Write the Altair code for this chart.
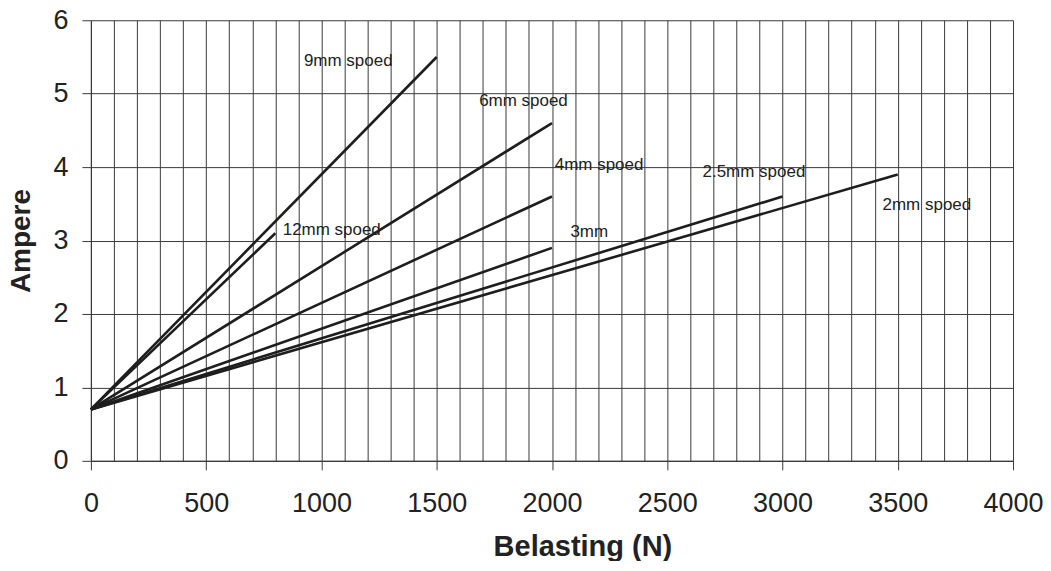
import altair as alt
import pandas as pd

# series: start and end points (Belasting N, Ampere)
series = ["9mm", "12mm", "6mm", "4mm", "3mm", "2.5mm", "2mm"]
start_x = [0, 0, 0, 0, 0, 0, 0]
start_y = [0.7, 0.7, 0.7, 0.7, 0.7, 0.7, 0.7]
end_x = [1500, 800, 2000, 2000, 2000, 3000, 3500]
end_y = [5.5, 3.1, 4.6, 3.6, 2.9, 3.6, 3.9]

# annotation labels
label_text = ["9mm spoed", "12mm spoed", "6mm spoed", "4mm spoed", "3mm", "2.5mm spoed", "2mm spoed"]
label_x = [924, 832, 1684, 2012, 2080, 2653, 3434]
label_y = [5.44, 3.14, 4.90, 4.03, 3.12, 3.93, 3.49]

x_grid_values = list(range(0, 4001, 100))
y_values = [0, 1, 2, 3, 4, 5, 6]

rows = []
for s, sx, sy, ex, ey in zip(series, start_x, start_y, end_x, end_y):
    rows.append({"serie": s, "x": sx, "y": sy, "o": 0})
    rows.append({"serie": s, "x": ex, "y": ey, "o": 1})
lines_df = pd.DataFrame(rows)
labels_df = pd.DataFrame({"label": label_text, "x": label_x, "y": label_y})

FONT = "Liberation Sans"
GRID = "#3a3a3a"

x_axis = alt.Axis(
    values=x_grid_values,
    grid=True,
    gridColor=GRID,
    gridWidth=1,
    gridOpacity=1,
    domainColor=GRID,
    domainWidth=1.2,
    tickColor={"condition": {"test": "datum.value % 500 === 0", "value": GRID}, "value": "transparent"},
    tickSize=9,
    tickWidth=1,
    labelExpr="datum.value % 500 === 0 ? format(datum.value, 'd') : ''",
    labelOverlap=False,
    labelFontSize=27,
    labelFont=FONT,
    labelColor="#222222",
    labelPadding=21,
    labelFlush=False,
    title="Belasting (N)",
    titleFont=FONT,
    titleFontSize=29,
    titleFontWeight="bold",
    titleColor="#222222",
    titlePadding=16,
    titleX=492,
    titleAlign="center",
)

y_axis = alt.Axis(
    values=y_values,
    format="d",
    grid=True,
    gridColor=GRID,
    gridWidth=1,
    gridOpacity=1,
    domainColor=GRID,
    domainWidth=1.2,
    tickColor=GRID,
    tickSize=9,
    tickWidth=1,
    labelFontSize=27,
    labelFont=FONT,
    labelColor="#222222",
    labelPadding=14,
    labelFlush=False,
    title="Ampere",
    titleFont=FONT,
    titleFontSize=28,
    titleFontWeight="bold",
    titleColor="#222222",
    titlePadding=17,
)

x_scale = alt.Scale(domain=[0, 4000], nice=False, zero=False)
y_scale = alt.Scale(domain=[0, 6], nice=False, zero=False)

lines = alt.Chart(lines_df).mark_line(strokeWidth=2.6, color="#1e1e1e").encode(
    x=alt.X("x:Q", scale=x_scale, axis=x_axis),
    y=alt.Y("y:Q", scale=y_scale, axis=y_axis),
    detail="serie:N",
    order="o:Q",
)

texts = alt.Chart(labels_df).mark_text(
    align="left", baseline="middle", fontSize=17, font=FONT, color="#222222"
).encode(
    x=alt.X("x:Q", scale=x_scale, axis=x_axis),
    y=alt.Y("y:Q", scale=y_scale, axis=y_axis),
    text="label:N",
)

chart = (
    alt.layer(lines, texts)
    .properties(
        width=923,
        height=441,
        autosize=alt.AutoSizeParams(type="none"),
        padding={"left": 83, "top": 12, "right": 30, "bottom": 100},
        background="white",
    )
    .configure_view(stroke=None)
)

chart.save("out.html", embed_options={"renderer": "svg", "actions": False})
